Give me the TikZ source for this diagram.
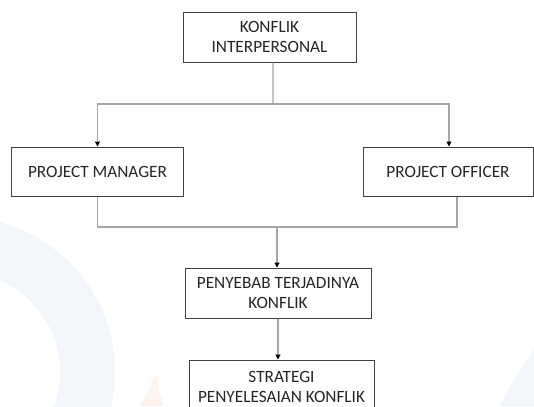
\documentclass[tikz,border=0pt]{standalone}
\usepackage{fontspec}
\setmainfont{Carlito}
\usetikzlibrary{arrows.meta}
\definecolor{boxgray}{HTML}{404040}
\definecolor{linegray}{HTML}{A6A6A6}
\definecolor{txtgray}{HTML}{262626}
\definecolor{wmblue}{HTML}{F2F5F9}
\definecolor{wmpeach}{HTML}{FEF4EE}
\begin{document}
\begin{tikzpicture}[x=1bp,y=-1bp,
  box/.style={draw=boxgray, line width=1bp, fill=white, align=center,
    text=txtgray, font=\fontsize{17.3}{20.5}\selectfont, inner sep=0pt},
  conn/.style={draw=linegray, line width=1.1bp},
  arr/.style={conn, -{Triangle[length=5bp,width=5bp,color=black]}}]
\useasboundingbox (0,0) rectangle (534,406);
\clip (0,0) rectangle (534,406);
% faint watermark
\fill[wmblue, even odd rule] (-40,372) circle (155) (-40,372) circle (100);
\fill[wmblue] (500,406) .. controls (512,382) .. (534,350) -- (534,406) -- cycle;
\fill[wmpeach] (140,406) .. controls (147,392) .. (157,374) .. controls (159,390) .. (164,406) -- cycle;
% boxes
\node[box, minimum width=173bp, minimum height=50bp] (k) at (269.5,37) {KONFLIK\\INTERPERSONAL};
\node[box, minimum width=171bp, minimum height=49bp] (pm) at (97.5,171.5) {PROJECT MANAGER};
\node[box, minimum width=170bp, minimum height=49bp] (po) at (448,171.5) {PROJECT OFFICER};
\node[box, minimum width=186bp, minimum height=50bp] (py) at (278,293) {PENYEBAB TERJADINYA\\KONFLIK};
\node[box, minimum width=185bp, minimum height=54bp] (st) at (281.5,387) {STRATEGI\\PENYELESAIAN KONFLIK};
% connectors
\coordinate (j1) at (273,104);
\coordinate (j2) at (277,227);
\draw[conn] ([xshift=3.5bp]k.south) -- (j1);
\draw[arr] (j1) -| (pm.north);
\draw[arr] (j1) -| ([xshift=1bp]po.north);
\draw[conn] (pm.south) |- (j2) -| ([xshift=9bp]po.south);
\draw[arr] (j2) -- (j2 |- py.north);
\draw[arr] (py.south) -- (py.south |- st.north);
\end{tikzpicture}
\end{document}
